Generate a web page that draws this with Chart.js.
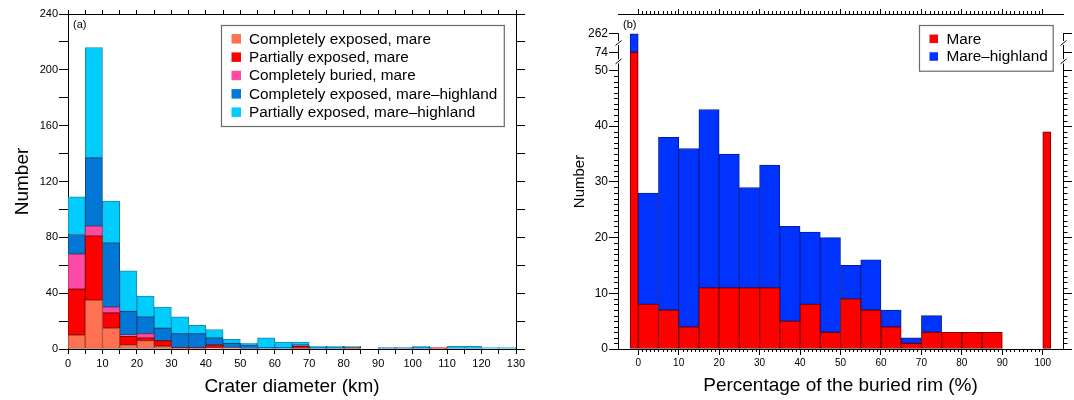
<!DOCTYPE html>
<html>
<head>
<meta charset="utf-8">
<script src="https://cdn.jsdelivr.net/npm/chart.js@4.4.1/dist/chart.umd.min.js"></script>
<style>
  html, body { margin: 0; padding: 0; background: #fff; }
  #wrap { position: relative; width: 1074px; height: 400px; }
  .panel { position: absolute; top: 0; width: 537px; height: 400px; }
</style>
</head>
<body>
<div id="wrap">
  <div class="panel" style="left:0"><canvas id="diameterChart"></canvas></div>
  <div class="panel" style="left:537px"><canvas id="rimChart"></canvas></div>
</div>
<script>
const FONT = '"Liberation Sans", Arial, Helvetica, sans-serif';

// (a) crater diameter, 5 km bins (bin start in km)
const diameterBinStart = [0, 5, 10, 15, 20, 25, 30, 35, 40, 45, 50, 55, 60, 65, 70, 75, 80, 85, 90, 95, 100, 105, 110, 115, 120, 125];
const exposedMare     = [10, 35, 15, 3, 6, 2, 0, 0, 1, 1, 0, 0, 0, 0, 0, 0, 0, 0, 0, 0, 0, 0, 0, 0, 0, 0];
const partialMare     = [33, 46, 11, 6, 2, 4, 1, 1, 2, 0, 0, 0, 0, 2, 0, 0, 1, 0, 0, 0, 0, 1, 0, 0, 0, 0];
const buriedMare      = [25, 7, 4, 1, 3, 0, 0, 0, 0, 0, 0, 0, 0, 0, 0, 0, 0, 0, 0, 0, 0, 0, 0, 0, 0, 0];
const exposedHighland = [14, 49, 46, 17, 12, 9, 10, 10, 5, 3, 3, 1, 1, 1, 1, 1, 0, 0, 1, 1, 1, 0, 0, 0, 0, 0];
const partialHighland = [27, 79, 30, 29, 15, 15, 12, 6, 6, 3, 1, 7, 4, 2, 1, 1, 1, 0, 0, 0, 1, 0, 2, 2, 1, 1];
const diameterXTicks = [0, 5, 10, 15, 20, 25, 30, 35, 40, 45, 50, 55, 60, 65, 70, 75, 80, 85, 90, 95, 100, 105, 110, 115, 120, 125, 130];
const diameterYTicks = [0, 20, 40, 60, 80, 100, 120, 140, 160, 180, 200, 220, 240];

// (b) percentage of the buried rim, 5 % bins plus the 0 % and 100 % classes
const rimBinStart  = [0, 5, 10, 15, 20, 25, 30, 35, 40, 45, 50, 55, 60, 65, 70, 75, 80, 85];
const rimMare      = [8, 7, 4, 11, 11, 11, 11, 5, 8, 3, 9, 7, 4, 1, 3, 3, 3, 3];
const rimHighland  = [20, 31, 32, 32, 24, 18, 22, 17, 13, 17, 6, 9, 3, 1, 3, 0, 0, 0];
const rimZeroMare = 74, rimZeroHighland = 188;
const rimFullMare = 39, rimFullHighland = 0;
const rimXTicks = [0, 10, 20, 30, 40, 50, 60, 70, 80, 90, 100];
const rimYTicks = [0, 10, 20, 30, 40, 50, 74, 262];

Chart.defaults.font.family = FONT;
Chart.defaults.color = '#000';

// broken count axis of (b): linear to 50, then two compressed sections
const breakKnots = [[50, 50], [74, 53.27], [262, 56.6]];
function brk(v) {
    if (v <= breakKnots[0][0]) return v;
    for (let i = 1; i < breakKnots.length; i++) {
        const [a, pa] = breakKnots[i - 1], [b, pb] = breakKnots[i];
        if (v <= b || i === breakKnots.length - 1) return pa + (v - a) / (b - a) * (pb - pa);
    }
}

function edgeAxis(position, min, max, ticks, o) {
    const vertical = position === 'left' || position === 'right';
    return {
        type: 'linear', position, min, max,
        offset: false,
        stacked: o.stacked || false,
        afterBuildTicks: s => { s.ticks = ticks.map(v => ({ value: v })); },
        afterFit: s => { if (vertical) s.width = o.size; else s.height = o.size; },
        ticks: {
            display: !!o.label, autoSkip: false, maxRotation: 0, minRotation: 0,
            padding: o.pad || 0, font: { size: o.font || 11 }, color: '#000',
            callback: o.label || (() => '')
        },
        grid: { offset: false, drawOnChartArea: false, tickLength: o.tick, color: '#000', tickColor: '#000', tickWidth: 1 },
        border: { display: o.border !== false, color: '#000', width: 1 },
        title: o.title ? {
            display: true, text: o.title, color: '#000',
            font: { size: o.titleSize }, padding: o.titlePad
        } : { display: false }
    };
}

const boxLegend = {
    id: 'boxLegend',
    afterDraw(chart, args, o) {
        const { ctx, chartArea } = chart;
        const items = chart.data.datasets.filter(d => !d.legendSkip);
        ctx.save();
        ctx.font = o.fontSize + 'px ' + FONT;
        const textW = Math.max(...items.map(d => ctx.measureText(d.label).width));
        const w = o.padLeft + o.box + o.gap + textW + o.padRight;
        const h = o.padTop + o.rowHeight * (items.length - 1) + o.padBottom;
        const x = Math.round(chartArea.right - o.right - w) + 0.5;
        const y = Math.round(chartArea.top + o.top) + 0.5;
        ctx.fillStyle = '#fff';
        ctx.fillRect(x, y, w, h);
        ctx.strokeStyle = '#6a6a6a';
        ctx.lineWidth = 1.2;
        ctx.strokeRect(x, y, w, h);
        ctx.textBaseline = 'middle';
        ctx.textAlign = 'left';
        items.forEach((d, i) => {
            const cy = y + o.padTop + i * o.rowHeight;
            ctx.fillStyle = d.backgroundColor;
            ctx.fillRect(x + o.padLeft, cy - o.box / 2, o.box, o.box);
            ctx.fillStyle = '#000';
            ctx.fillText(d.label, x + o.padLeft + o.box + o.gap, cy + 0.5);
        });
        ctx.restore();
    }
};

const panelTag = {
    id: 'panelTag',
    afterDraw(chart, args, o) {
        const { ctx, chartArea } = chart;
        ctx.save();
        ctx.font = '11px ' + FONT;
        ctx.fillStyle = '#000';
        ctx.textBaseline = 'middle';
        ctx.fillText(o.text, chartArea.left + 5, chartArea.top + 11);
        ctx.restore();
    }
};

// small unlabelled ticks and the broken y axis lines of (b)
const rimAxisDecor = {
    id: 'rimAxisDecor',
    afterDraw(chart) {
        const { ctx, chartArea: a, scales: { x, y } } = chart;
        ctx.save();
        ctx.strokeStyle = '#000';
        ctx.lineWidth = 1;
        ctx.beginPath();
        for (let v = 0; v <= 100; v++) {
            if (v % 10 === 0) continue;
            const px = Math.round(x.getPixelForValue(v)) + 0.5;
            ctx.moveTo(px, a.bottom); ctx.lineTo(px, a.bottom + 3);
            ctx.moveTo(px, a.top); ctx.lineTo(px, a.top - 3);
        }
        for (let v = 1; v < 50; v++) {
            if (v % 10 === 0) continue;
            const py = Math.round(y.getPixelForValue(v)) + 0.5;
            ctx.moveTo(a.left, py); ctx.lineTo(a.left - 4, py);
            ctx.moveTo(a.right, py); ctx.lineTo(a.right + 4.5, py);
        }
        const g1 = (y.getPixelForValue(50) + y.getPixelForValue(brk(74))) / 2;
        const g2 = (y.getPixelForValue(brk(74)) + y.getPixelForValue(brk(262))) / 2;
        const topTick = y.getPixelForValue(brk(262));
        [a.left, a.right].forEach(ax => {
            const xs = Math.round(ax) + 0.5;
            ctx.moveTo(xs, a.bottom); ctx.lineTo(xs, g1 + 2);
            ctx.moveTo(xs, g1 - 2); ctx.lineTo(xs, g2 + 2);
            ctx.moveTo(xs, g2 - 2); ctx.lineTo(xs, topTick - 0.5);
            [g1, g2].forEach(g => { ctx.moveTo(xs - 3, g + 2.5); ctx.lineTo(xs + 3, g - 2.5); });
        });
        ctx.stroke();
        ctx.restore();
    }
};

// ---------- (a) ----------
const diameterSeries = [
    { label: 'Completely exposed, mare', counts: exposedMare, fill: '#ff7152', line: '#a4472f' },
    { label: 'Partially exposed, mare', counts: partialMare, fill: '#ff0000', line: '#940000' },
    { label: 'Completely buried, mare', counts: buriedMare, fill: '#ff4aa5', line: '#a8306a' },
    { label: 'Completely exposed, mare\u2013highland', counts: exposedHighland, fill: '#0277d6', line: '#0b4a80' },
    { label: 'Partially exposed, mare\u2013highland', counts: partialHighland, fill: '#00cdfe', line: '#1688a8' }
];

new Chart(document.getElementById('diameterChart'), {
    type: 'bar',
    data: {
        datasets: diameterSeries.map(s => ({
            label: s.label,
            data: s.counts.map((c, i) => ({ x: diameterBinStart[i] + 2.5, y: c || null })),
            backgroundColor: s.fill,
            borderColor: s.line,
            borderWidth: 1,
            borderSkipped: false,
            categoryPercentage: 1,
            barPercentage: 1
        }))
    },
    options: {
        responsive: true,
        maintainAspectRatio: false,
        animation: false,
        devicePixelRatio: 1,
        layout: { padding: 0 },
        plugins: {
            legend: { display: false },
            tooltip: { enabled: false },
            boxLegend: { right: 12, top: 11, padLeft: 10, box: 9.5, gap: 8, padRight: 7, padTop: 13.3, rowHeight: 18.35, padBottom: 14.3, fontSize: 15.3 },
            panelTag: { text: '(a)' }
        },
        scales: {
            x: edgeAxis('bottom', 0, 130, diameterXTicks, {
                size: 51, tick: 5, pad: 3, font: 11, stacked: true,
                label: v => (v % 10 === 0 ? String(v) : ''),
                title: 'Crater diameter (km)', titleSize: 19, titlePad: { top: 0, bottom: 1.5 }
            }),
            x2: edgeAxis('top', 0, 130, diameterXTicks, { size: 14, tick: 4 }),
            y: edgeAxis('left', 0, 240, diameterYTicks, {
                size: 68, tick: 9, pad: 1, font: 11, stacked: true,
                label: v => (v % 40 === 0 ? String(v) : ''),
                title: 'Number', titleSize: 19, titlePad: { top: 11, bottom: 0 }
            }),
            y2: edgeAxis('right', 0, 240, diameterYTicks, { size: 21, tick: 9 })
        }
    },
    plugins: [boxLegend, panelTag]
});

// ---------- (b) ----------
const rimRed = '#ff0000', rimRedLine = '#7a0000';
const rimBlue = '#0033ff', rimBlueLine = '#0a1f8f';
const binPx = units => ctx => {
    const s = ctx.chart.scales.x;
    return Math.abs(s.getPixelForValue(units) - s.getPixelForValue(0));
};
const rimBar = (color, line, units) => ({
    backgroundColor: color, borderColor: line, borderWidth: 1, borderSkipped: false,
    grouped: false, barThickness: binPx(units)
});
const rimYLabels = {};
rimYTicks.forEach(v => { rimYLabels[brk(v).toFixed(3)] = String(v); });

new Chart(document.getElementById('rimChart'), {
    type: 'bar',
    data: {
        datasets: [
            Object.assign({
                label: 'Mare',
                data: rimMare.map((m, i) => ({ x: rimBinStart[i] + 2.5, y: [0, m] }))
            }, rimBar(rimRed, rimRedLine, 5)),
            Object.assign({
                label: 'Mare\u2013highland',
                data: rimHighland.map((h, i) => ({ x: rimBinStart[i] + 2.5, y: h ? [rimMare[i], rimMare[i] + h] : null }))
            }, rimBar(rimBlue, rimBlueLine, 5)),
            Object.assign({
                label: 'Mare', legendSkip: true,
                data: [
                    { x: -1, y: [0, brk(rimZeroMare)] },
                    { x: 101, y: [0, brk(rimFullMare)] }
                ]
            }, rimBar(rimRed, rimRedLine, 2)),
            Object.assign({
                label: 'Mare\u2013highland', legendSkip: true,
                data: [
                    { x: -1, y: rimZeroHighland ? [brk(rimZeroMare), brk(rimZeroMare + rimZeroHighland)] : null },
                    { x: 101, y: rimFullHighland ? [brk(rimFullMare), brk(rimFullMare + rimFullHighland)] : null }
                ]
            }, rimBar(rimBlue, rimBlueLine, 2))
        ]
    },
    options: {
        responsive: true,
        maintainAspectRatio: false,
        animation: false,
        devicePixelRatio: 1,
        layout: { padding: 0 },
        plugins: {
            legend: { display: false },
            tooltip: { enabled: false },
            boxLegend: { right: 10.6, top: 11, padLeft: 10, box: 8.5, gap: 8.5, padRight: 5.5, padTop: 13.3, rowHeight: 17.7, padBottom: 14.7, fontSize: 15.3 },
            panelTag: { text: '(b)' }
        },
        scales: {
            x: edgeAxis('bottom', -5, 105, rimXTicks, {
                size: 51, tick: 6, pad: 2.5, font: 10,
                label: v => String(v),
                title: 'Percentage of the buried rim (%)', titleSize: 19, titlePad: { top: 0, bottom: 3 }
            }),
            x2: edgeAxis('top', -5, 105, rimXTicks, { size: 14, tick: 5 }),
            y: edgeAxis('left', 0, 60.14, rimYTicks.map(brk), {
                size: 81, tick: 9, pad: 1, font: 12, border: false,
                label: v => rimYLabels[Number(v).toFixed(3)] || '',
                title: 'Number', titleSize: 15, titlePad: { top: 34, bottom: 0 }
            }),
            y2: edgeAxis('right', 0, 60.14, rimYTicks.map(brk), { size: 11, tick: 9, border: false })
        }
    },
    plugins: [boxLegend, panelTag, rimAxisDecor]
});
</script>
</body>
</html>
